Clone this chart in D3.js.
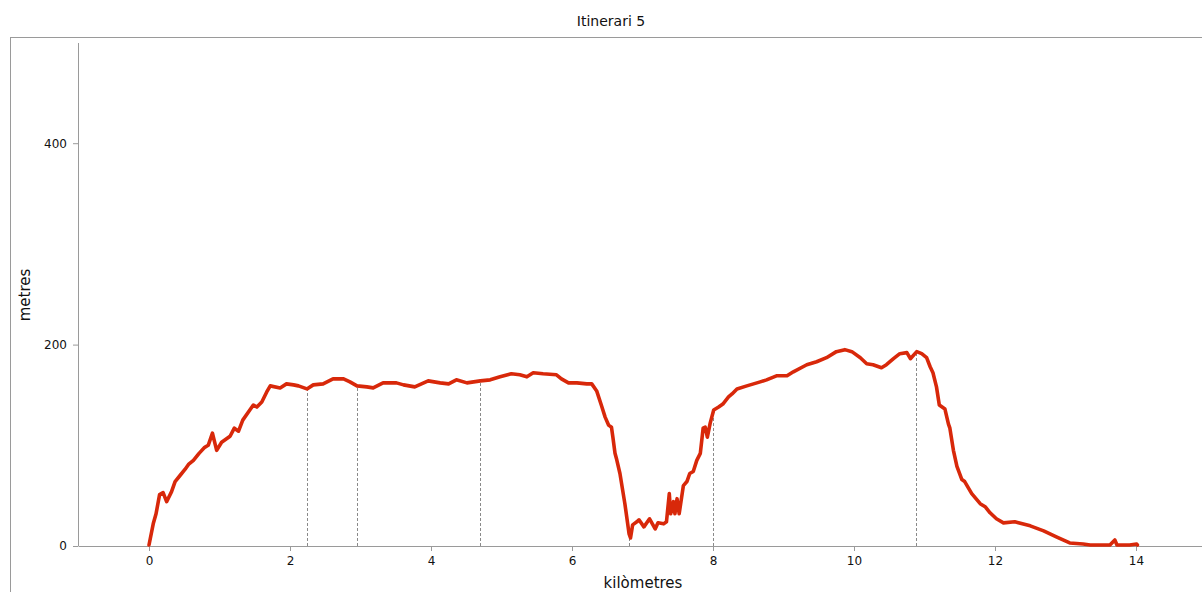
<!DOCTYPE html>
<html>
<head>
<meta charset="utf-8">
<script src="https://cdn.jsdelivr.net/npm/d3@7"></script>
<style>
  html, body { margin: 0; padding: 0; background: #fff; }
  svg { display: block; font-family: "DejaVu Sans", sans-serif; }
</style>
</head>
<body>
<svg id="chart" width="1202" height="592"></svg>
<script>
const title = "Itinerari 5";
const xLabel = "kilòmetres";
const yLabel = "metres";
const xTicks = [0, 2, 4, 6, 8, 10, 12, 14];
const yTicks = [0, 200, 400];

const distanceKm = [0.00,0.06,0.10,0.15,0.20,0.25,0.32,0.37,0.44,0.51,0.56,0.63,0.71,0.79,0.84,0.90,0.96,1.03,1.15,1.21,1.27,1.33,1.43,1.48,1.53,1.60,1.67,1.72,1.86,1.95,2.05,2.12,2.24,2.33,2.47,2.61,2.76,2.85,2.95,3.09,3.18,3.32,3.51,3.61,3.77,3.96,4.13,4.25,4.36,4.51,4.70,4.84,4.98,5.14,5.26,5.36,5.45,5.59,5.78,5.85,5.95,6.07,6.21,6.28,6.35,6.42,6.47,6.52,6.56,6.58,6.61,6.63,6.68,6.75,6.81,6.83,6.86,6.92,6.95,7.02,7.10,7.18,7.22,7.30,7.34,7.38,7.40,7.44,7.46,7.49,7.52,7.58,7.63,7.67,7.72,7.77,7.82,7.86,7.89,7.92,7.96,8.01,8.08,8.14,8.22,8.27,8.34,8.48,8.67,8.76,8.90,9.05,9.14,9.33,9.47,9.61,9.75,9.87,9.97,10.09,10.18,10.27,10.39,10.46,10.56,10.65,10.75,10.80,10.89,10.96,11.03,11.08,11.12,11.17,11.21,11.29,11.34,11.36,11.41,11.46,11.53,11.57,11.67,11.79,11.86,11.93,12.02,12.12,12.28,12.50,12.69,12.87,13.06,13.25,13.35,13.63,13.70,13.73,13.82,13.91,14.01,14.02];
const elevationM = [1,22,32,51,53,44,54,64,70,76,81,85,92,98,100,112,95,103,109,117,114,125,135,140,138,143,153,159,157,161,160,159,156,160,161,166,166,163,159,158,157,162,162,160,158,164,162,161,165,162,164,165,168,171,170,168,172,171,170,166,162,162,161,161,154,139,128,120,118,108,92,87,72,42,12,8,21,24,26,19,27,17,23,22,24,52,32,44,32,47,32,60,64,72,74,85,92,117,118,108,122,135,138,141,148,151,156,159,163,165,169,169,173,180,183,187,193,195,193,187,181,180,177,180,186,191,192,186,193,191,187,178,172,158,140,136,121,117,95,79,66,64,52,42,39,33,27,23,24,20,15,9,3,2,1,1,6,1,1,1,2,1];

const markerKm = [2.245, 2.946, 4.70, 6.813, 8.005, 10.875];
const markerElev = [156, 159, 164, 9, 135, 192];

const svg = d3.select("#chart");
const x = d3.scaleLinear().domain([-1, 15]).range([78.5, 1206.5]);
const y = d3.scaleLinear().domain([0, 500]).range([546, 42.5]);

// outer frame
svg.append("rect")
  .attr("x", 10.5).attr("y", 37.5)
  .attr("width", 1230).attr("height", 600)
  .attr("fill", "none").attr("stroke", "#9a9a9a").attr("stroke-width", 1);

// title
svg.append("text")
  .attr("x", 611).attr("y", 26)
  .attr("text-anchor", "middle")
  .attr("font-size", 14).attr("fill", "#111")
  .text(title);

// axes
const gy = svg.append("g").attr("transform", "translate(78,0)")
  .call(d3.axisLeft(y).tickValues(yTicks).tickSize(5).tickSizeOuter(0).tickPadding(6));
const gx = svg.append("g").attr("transform", "translate(0,546)")
  .call(d3.axisBottom(x).tickValues(xTicks).tickSize(5).tickSizeOuter(0).tickPadding(5));
[gx, gy].forEach(g => {
  g.selectAll(".domain").attr("stroke", "#9a9a9a");
  g.selectAll(".tick line").attr("stroke", "#9a9a9a");
  g.selectAll(".tick text").attr("font-size", 12).attr("fill", "#111")
    .attr("font-family", "DejaVu Sans, sans-serif");
});

// axis labels
svg.append("text")
  .attr("x", 643).attr("y", 588)
  .attr("text-anchor", "middle")
  .attr("font-size", 15).attr("fill", "#111")
  .text(xLabel);
svg.append("text")
  .attr("transform", "translate(30,295) rotate(-90)")
  .attr("text-anchor", "middle")
  .attr("font-size", 15).attr("fill", "#111")
  .text(yLabel);

// dashed markers
svg.append("g").selectAll("line")
  .data(markerKm.map((k, i) => ({k, e: markerElev[i]})))
  .join("line")
  .attr("x1", d => Math.round(x(d.k)) + 0.5).attr("x2", d => Math.round(x(d.k)) + 0.5)
  .attr("y1", y(0)).attr("y2", d => y(d.e))
  .attr("stroke", "#8a8a8a").attr("stroke-width", 1)
  .attr("stroke-dasharray", "3,2");

// profile line
const data = distanceKm.map((k, i) => ({k, e: elevationM[i]}));
svg.append("path")
  .datum(data)
  .attr("fill", "none")
  .attr("stroke", "#d8280a")
  .attr("stroke-width", 3.6)
  .attr("stroke-linejoin", "round")
  .attr("stroke-linecap", "round")
  .attr("d", d3.line().x(d => x(d.k)).y(d => y(d.e)));
</script>
</body>
</html>
